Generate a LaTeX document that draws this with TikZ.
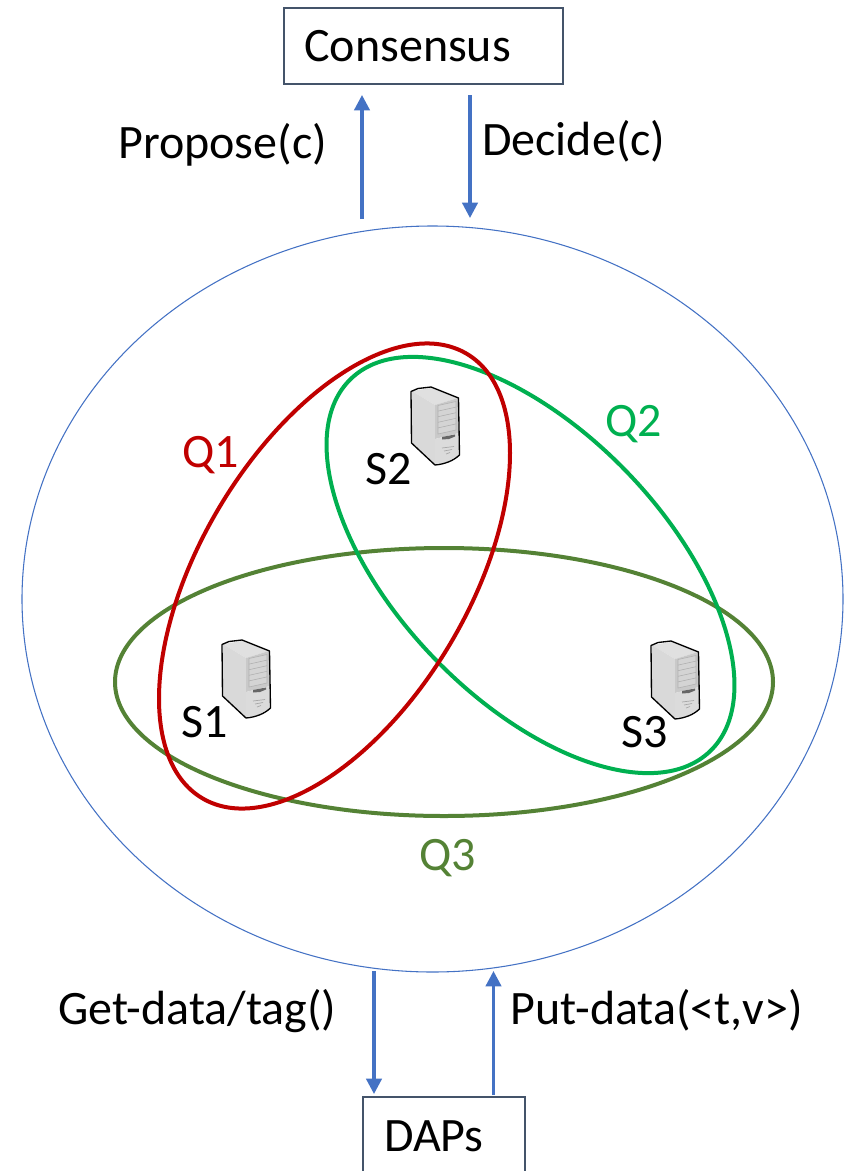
\documentclass[tikz,border=0pt]{standalone}
\usepackage{fontspec}
\setmainfont{Carlito}
\usetikzlibrary{arrows.meta}
\definecolor{blueA}{HTML}{4472C4}
\definecolor{slateA}{HTML}{44546A}
\definecolor{redQ}{HTML}{C00000}
\definecolor{greenQ}{HTML}{00B050}
\definecolor{oliveQ}{HTML}{548235}
\tikzset{
  lab/.style={anchor=base west,inner sep=0pt,font=\fontsize{36pt}{42pt}\selectfont,text=black},
  boxA/.style={draw=slateA,line width=1.5pt,fill=white,anchor=north west,inner sep=0pt},
  flow/.style={draw=blueA,line width=2.4pt,-{Triangle[width=11.5pt,length=11.5pt]},shorten >=0pt},
  quorum/.style={line width=3pt,fill=none},
  pics/serverbox/.style={code={
    \fill[black!12] (1,4)--(20,1)--(47,11)--(24,18)--cycle;
    \fill[black!15] (1,4)--(24,18)--(24,77)--(1,56)--cycle;
    \fill[black!21] (24,18)--(47,11)--(48,46)--(24,52)--cycle;
    \fill[black!14] (24,52)--(48,46)--(48,68)--(36,75)--(24,77)--cycle;
    \draw[black!30,line width=.45pt,fill=black!17] (27,18.5)--(45,14.5)--(45,43)--(27,47)--cycle;
    \foreach \i in {1,2,3,4}{\draw[black!32,line width=.4pt] (27,18.5+5.6*\i)--(45,14.5+5.6*\i);}
    \fill[black!60] (31,50)--(44,47.5)--(44,49.5)--(38,52)--(31,52.5)--cycle;
    \foreach \i in {0,1,2}{\draw[black!35,line width=.5pt] (31+2*\i,61+3*\i)--(43-2*\i,59.5+3*\i);}
    \draw[black,line width=1pt,line join=round] (0,4.5)--(7,1.5)--(20,0)--(47.5,11)--(48.5,68) .. controls (42,74) and (34,77) .. (24,78)--(0.5,56)--cycle;
  }}
}
\begin{document}
\begin{tikzpicture}[x=0.75pt,y=-0.75pt]
\useasboundingbox (0,0) rectangle (856,1171);
\clip (0,0) rectangle (856,1171);
% outer circle
\draw[blueA,line width=.8pt] (432.5,599) ellipse [x radius=410.5,y radius=373];
% quorum ellipses
\draw[quorum,oliveQ] (444,682) ellipse [x radius=329,y radius=134];
\draw[quorum,greenQ,rotate around={-46:(530.5,565)}] (530.5,565) ellipse [x radius=258.7,y radius=134];
\draw[quorum,redQ,rotate around={59.2:(334.5,576)}] (334.5,576) ellipse [x radius=258.6,y radius=134.1];
% servers
\pic (srvA) at (222,640) {serverbox};
\pic (srvB) at (411,387) {serverbox};
\pic (srvC) at (651,641) {serverbox};
% boxes
\node (cons) [boxA,minimum width=209.3pt,minimum height=57.5pt] at (283,6.5) {};
\node (daps) [boxA,minimum width=122pt,minimum height=80pt] at (361.5,1095.5) {};
% connector ends
\coordinate (p0) at (362,219); \coordinate (p1) at (362,95);
\coordinate (d0) at (470,95);  \coordinate (d1) at (470,218);
\coordinate (g0) at (374,971); \coordinate (g1) at (374,1094);
\coordinate (u0) at (493.5,1095); \coordinate (u1) at (493.5,971);
\draw[flow] (p0) -- (p1);
\draw[flow] (d0) -- (d1);
\draw[flow] (g0) -- (g1);
\draw[flow] (u0) -- (u1);
% labels
\node[lab] (tCons) at (304,61.5) {Consensus};
\node[lab] (tDaps) at (384,1151) {DAPs};
\node[lab] (tProp) at (118,158) {Propose(c)};
\node[lab] (tDec) at (482,155) {Decide(c)};
\node[lab] (tGet) at (58,1024.5) {Get-data/tag()};
\node[lab] (tPut) at (510.5,1024.5) {Put-data(<t,v>)};
\node[lab,text=redQ] (tQ1) at (182,467) {Q1};
\node[lab,text=greenQ] (tQ2) at (605,436) {Q2};
\node[lab,text=oliveQ] (tQ3) at (419,870) {Q3};
\node[lab] (tS1) at (181,737) {S1};
\node[lab] (tS2) at (365,484) {S2};
\node[lab] (tS3) at (621,747) {S3};
\end{tikzpicture}
\end{document}
